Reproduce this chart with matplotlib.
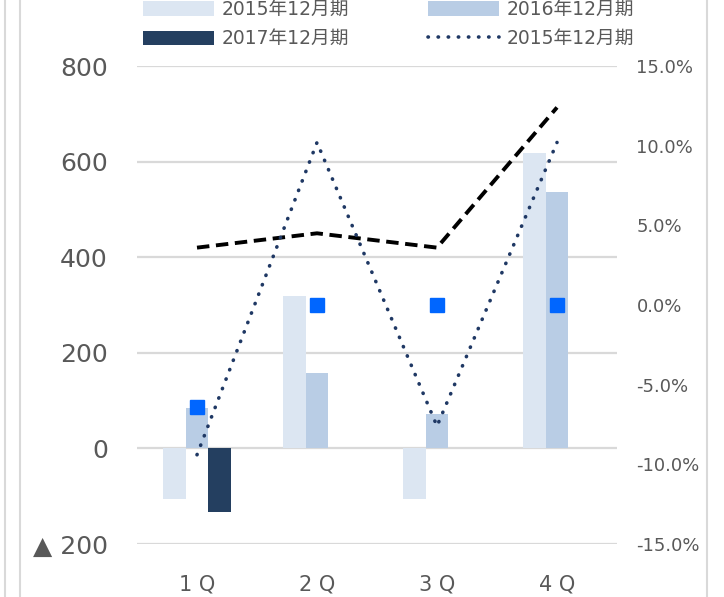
import matplotlib
matplotlib.use("Agg")
import matplotlib.pyplot as plt
from matplotlib.lines import Line2D
from matplotlib.ticker import FuncFormatter
import numpy as np

plt.rcParams['font.family'] = ['DejaVu Sans', 'Noto Sans CJK JP']

# data
quarters = ["1 Q", "2 Q", "3 Q", "4 Q"]
sales_2015 = [-105, 318, -105, 618]
sales_2016 = [85, 158, 73, 537]
sales_2017 = [-133, 0, 0, 0]
rate_dashed = [3.6, 4.5, 3.6, 12.4]
rate_dotted = [-9.4, 10.2, -7.6, 10.2]
rate_square = [-6.4, 0.0, 0.0, 0.0]
labels = ["2015年12月期", "2016年12月期", "2017年12月期", "2015年12月期"]

c15 = "#DCE6F2"
c16 = "#B9CDE5"
c17 = "#243F60"
c_dot = "#1F3864"
c_sq = "#0066FF"
grid_c = "#D9D9D9"
txt_c = "#595959"

fig = plt.figure(figsize=(7.24, 5.97), dpi=100)
ax = fig.add_axes([137 / 724, 53 / 597, 480 / 724, 478 / 597])
ax2 = ax.twinx()

x = np.arange(len(quarters))
w = 0.19
b15 = ax.bar(x - w, sales_2015, w, color=c15, zorder=2)
b16 = ax.bar(x, sales_2016, w, color=c16, zorder=2)
b17 = ax.bar(x + w, sales_2017, w, color=c17, zorder=2)

ax.set_ylim(-200, 800)
ax.set_yticks(range(-200, 801, 200))
ax.yaxis.set_major_formatter(FuncFormatter(lambda v, p: f"▲ {int(-v)}" if v < 0 else f"{int(v)}"))
ax.set_xlim(-0.5, 3.5)
ax.set_xticks(x)
ax.set_xticklabels(quarters)
ax.grid(axis="y", color=grid_c, lw=1.6, zorder=0)
ax.set_axisbelow(True)
ax.tick_params(axis="y", length=0, pad=21, labelsize=18, labelcolor=txt_c)
ax.tick_params(axis="x", length=0, pad=22, labelsize=15, labelcolor=txt_c)
for s in ax.spines.values():
    s.set_visible(False)

dot_style = (0, (0.1, 2.7))
ax2.plot(x, rate_dashed, color="black", lw=2.8, linestyle=(0, (3.2, 1.7)), zorder=3)
ax2.plot(x, rate_dotted, color=c_dot, lw=2.6, linestyle=dot_style,
         dash_capstyle="round", zorder=3)
ax2.plot(x, rate_square, linestyle="none", marker="s", markersize=10,
         color=c_sq, zorder=4)
ax2.set_ylim(-15, 15)
ax2.set_yticks(range(-15, 16, 5))
ax2.yaxis.set_major_formatter(FuncFormatter(lambda v, p: f"{v:.1f}%"))
ax2.tick_params(axis="y", length=0, pad=14, labelsize=13, labelcolor=txt_c)
for s in ax2.spines.values():
    s.set_visible(False)

dot_handle = Line2D([], [], color=c_dot, lw=2.6, linestyle=dot_style, dash_capstyle="round")
# legend fills column-first, so order handles to read row by row
handles = [b15, b17, b16, dot_handle]
leg_labels = [labels[0], labels[2], labels[1], labels[3]]
fig.legend(handles, leg_labels, ncol=2, loc="upper left", bbox_to_anchor=(143 / 724, 1.0),
           frameon=False, fontsize=13.5, handlelength=3.8, handleheight=0.8,
           labelspacing=0.55, columnspacing=4.2, handletextpad=0.4,
           borderpad=0, borderaxespad=0, labelcolor=txt_c)

for xp in (5, 20, 707):
    fig.add_artist(Line2D([xp / 724, xp / 724], [0, 1], color=grid_c, lw=1.5))

fig.savefig("out.png", dpi=100)
